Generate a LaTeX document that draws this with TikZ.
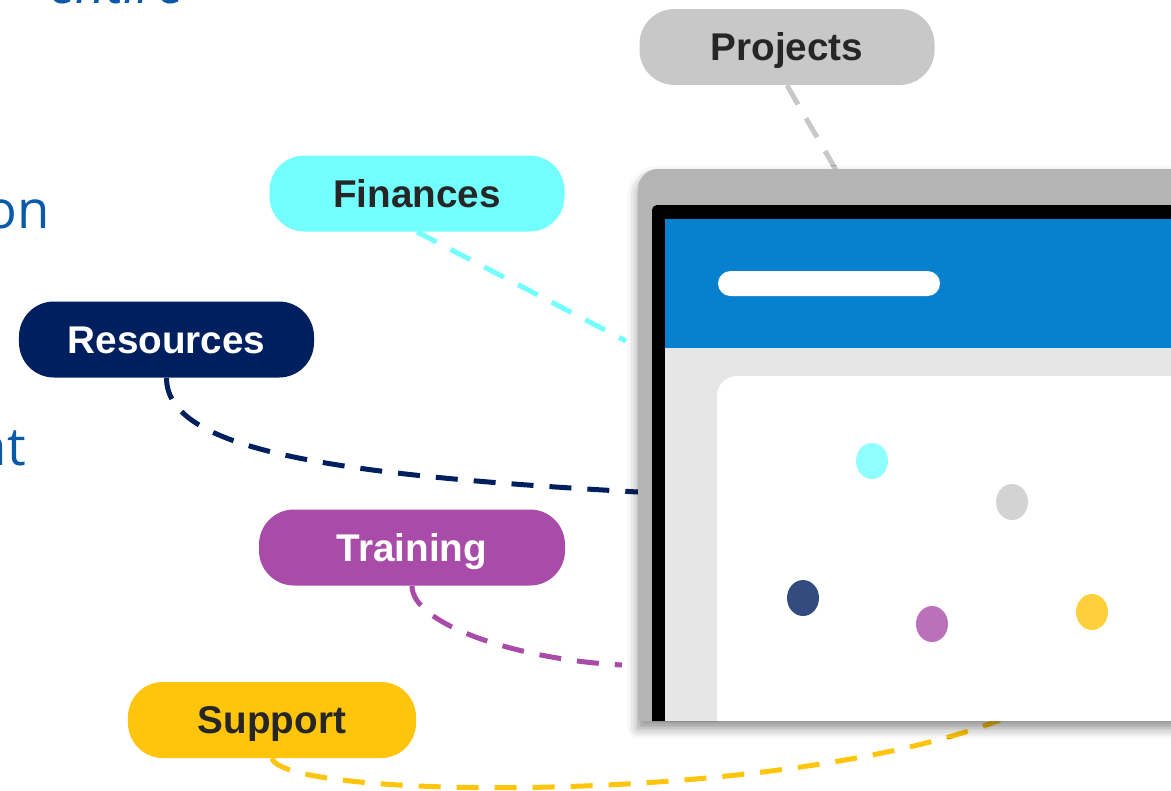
\documentclass[tikz,border=0pt]{standalone}
\usepackage{fontspec}
\usepackage{xcolor}
\usetikzlibrary{positioning,shapes.geometric,shadows.blur}
\newfontfamily\tagfont{Liberation Sans}
\newfontfamily\slidefont{Open Sans}

\definecolor{projgray}{HTML}{C8C8C8}
\definecolor{fincyan}{HTML}{73FFFF}
\definecolor{resnavy}{HTML}{001F5F}
\definecolor{trainpurple}{HTML}{A94CA9}
\definecolor{suppyellow}{HTML}{FFC40C}
\definecolor{tagtext}{HTML}{262626}
\definecolor{slideblue}{HTML}{0A5AA8}
\definecolor{framegray}{HTML}{B4B4B4}
\definecolor{headblue}{HTML}{0780CD}
\definecolor{bodygray}{HTML}{E6E6E6}

\tikzset{
  tag/.style={rounded corners=7mm, minimum height=15.2mm, minimum width=59mm,
    inner sep=0pt, text height=15.8pt, text depth=0pt, text=tagtext,
    font=\tagfont\bfseries\fontsize{22}{26}\selectfont},
  link/.style={line width=1mm, dash pattern=on 4.4mm off 3.2mm},
  dot/.style={ellipse, minimum width=6.4mm, minimum height=7.2mm, inner sep=0pt},
  slidetext/.style={anchor=base east, text=slideblue,
    font=\slidefont\fontsize{30}{36}\selectfont},
}

\begin{document}
\begin{tikzpicture}[x=0.2mm,y=-0.2mm]
\useasboundingbox (0,0) rectangle (1171,790);
\clip (0,0) rectangle (1171,790);

% slide text behind
\node[slidetext, font=\slidefont\itshape\fontsize{30}{36}\selectfont] (topword) at (190,3) {entire};
\node[slidetext] (onword) at (56,228) {on};
\node[slidetext] (ntword) at (32,465) {nt};

% tags
\node[tag, fill=projgray] (projects) at (787,47) {Projects};
\node[tag, fill=fincyan] (finances) at (417,193.5) {Finances};
\node[tag, fill=resnavy, text=white] (resources) at (166.5,339.5) {Resources};
\node[tag, fill=trainpurple, text=white, minimum width=61.2mm] (training) at (412,547.5) {Training};
\node[tag, fill=suppyellow, minimum width=57.6mm] (support) at (272,720) {Support};

\coordinate (projEnd) at (836,170);
\coordinate (finEnd) at (626,341);
\coordinate (resEnd) at (638,492);
\coordinate (trainEnd) at (622,665);
\coordinate (suppEnd) at (1000,720);

% links
\draw[link, projgray] (projects.south) -- (projEnd);
\draw[link, fincyan] (finances.south) -- (finEnd);
\draw[link, resnavy] (resources.south) .. controls +(0,72) and +(-307,-17) .. (resEnd);
\draw[link, trainpurple] (training.south) .. controls +(0,39) and +(-102,-5) .. (trainEnd);
\draw[link, suppyellow] (support.south) .. controls +(13,42) and +(-220,85) .. (suppEnd);

% screen
\fill[framegray, blur shadow={shadow xshift=0pt, shadow yshift=-4pt, shadow blur radius=6pt, shadow opacity=45}]
  (1240,400) -- (1240,721) -- (638,721) -- (638,400) [rounded corners=4mm] -- (638,169) -- (1240,169) [sharp corners] -- cycle;
\fill[black] (1240,400) -- (1240,721) -- (652,721) -- (652,400) [rounded corners=1mm] -- (652,205) -- (1240,205) [sharp corners] -- cycle;
\fill[headblue] (665,219) rectangle (1240,348);
\fill[bodygray] (665,348) rectangle (1240,721);
\fill[white] (1240,500) -- (1240,721) -- (717,721) -- (717,500) [rounded corners=4mm] -- (717,376) -- (1240,376) [sharp corners] -- cycle;
\node[fill=white, rounded corners=2.5mm, minimum width=44.4mm, minimum height=5mm, inner sep=0pt] (searchbar) at (829,283.5) {};

% dots
\node[dot, fill=fincyan!80!white] (dotfin) at (872,461) {};
\node[dot, fill=projgray!80!white] (dotproj) at (1012,502) {};
\node[dot, fill=resnavy!80!white] (dotres) at (803,598) {};
\node[dot, fill=trainpurple!80!white] (dottrain) at (932,624) {};
\node[dot, fill=suppyellow!80!white] (dotsupp) at (1092,612) {};
\end{tikzpicture}
\end{document}
